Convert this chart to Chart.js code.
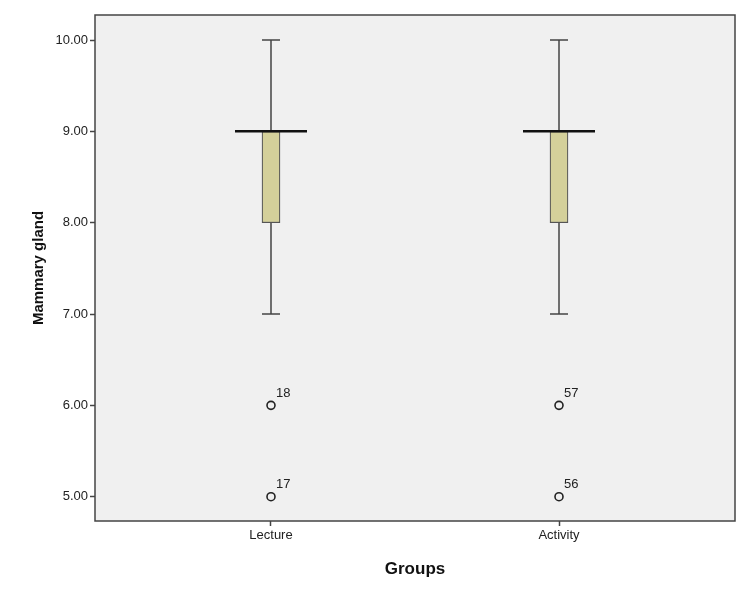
<!DOCTYPE html>
<html>
<head>
<meta charset="utf-8">
<script src="https://cdn.jsdelivr.net/npm/chart.js@4"></script>
<style>
  html, body { margin: 0; padding: 0; background: #fff; }
  #wrap { width: 750px; height: 600px; }
</style>
</head>
<body>
<div id="wrap"><canvas id="chart" width="750" height="600"></canvas></div>
<script>
// box plot values per group
var groups = ['Lecture', 'Activity'];
var whiskerLow = [7, 7];
var q1 = [8, 8];
var median = [9, 9];
var q3 = [9, 9];
var whiskerHigh = [10, 10];
var outlierValues = [[6, 5], [6, 5]];
var outlierIds = [['18', '17'], ['57', '56']];
var yTicks = [5, 6, 7, 8, 9, 10];

var FONT = 'Arial, "Liberation Sans", sans-serif';

var boxData = groups.map(function(g, i) {
  return { x: i + 1, y: [q1[i], q3[i]] };
});
var outlierData = [];
groups.forEach(function(g, i) {
  outlierValues[i].forEach(function(v, j) {
    outlierData.push({ x: i + 1, y: v, id: outlierIds[i][j] });
  });
});

// background + frame of the plot area
var framePlugin = {
  id: 'frame',
  beforeDraw: function(chart) {
    var a = chart.chartArea, ctx = chart.ctx;
    ctx.save();
    ctx.fillStyle = '#f0f0f0';
    ctx.fillRect(a.left, a.top, a.right - a.left, a.bottom - a.top);
    ctx.restore();
  },
  afterDraw: function(chart) {
    var a = chart.chartArea, ctx = chart.ctx;
    ctx.save();
    ctx.strokeStyle = '#444';
    ctx.lineWidth = 1.5;
    ctx.strokeRect(a.left, a.top, a.right - a.left, a.bottom - a.top);
    ctx.restore();
  }
};

// whiskers, caps and median drawn from the arrays through the scales
var whiskerPlugin = {
  id: 'whiskers',
  beforeDatasetsDraw: function(chart) {
    var xs = chart.scales.x, ys = chart.scales.y, ctx = chart.ctx;
    ctx.save();
    ctx.strokeStyle = '#444';
    ctx.lineWidth = 1.5;
    groups.forEach(function(g, i) {
      var cx = xs.getPixelForValue(i + 1);
      ctx.beginPath();
      ctx.moveTo(cx, ys.getPixelForValue(whiskerHigh[i]));
      ctx.lineTo(cx, ys.getPixelForValue(q3[i]));
      ctx.moveTo(cx, ys.getPixelForValue(q1[i]));
      ctx.lineTo(cx, ys.getPixelForValue(whiskerLow[i]));
      ctx.stroke();
      ctx.beginPath();
      [whiskerHigh[i], whiskerLow[i]].forEach(function(v) {
        var py = ys.getPixelForValue(v);
        ctx.moveTo(cx - 9, py);
        ctx.lineTo(cx + 9, py);
      });
      ctx.stroke();
    });
    ctx.restore();
  },
  afterDatasetsDraw: function(chart) {
    var xs = chart.scales.x, ys = chart.scales.y, ctx = chart.ctx;
    ctx.save();
    ctx.strokeStyle = '#111';
    ctx.lineWidth = 2.5;
    groups.forEach(function(g, i) {
      var cx = xs.getPixelForValue(i + 1);
      var py = ys.getPixelForValue(median[i]);
      ctx.beginPath();
      ctx.moveTo(cx - 36, py);
      ctx.lineTo(cx + 36, py);
      ctx.stroke();
    });
    // outlier case numbers
    ctx.fillStyle = '#222';
    ctx.font = '13px ' + FONT;
    ctx.textAlign = 'left';
    ctx.textBaseline = 'middle';
    outlierData.forEach(function(p) {
      ctx.fillText(p.id, xs.getPixelForValue(p.x) + 5, ys.getPixelForValue(p.y) - 12);
    });
    ctx.restore();
  }
};

var ctx = document.getElementById('chart').getContext('2d');
new Chart(ctx, {
  data: {
    datasets: [
      {
        type: 'bar',
        data: boxData,
        backgroundColor: '#d4d09a',
        borderColor: '#555',
        borderWidth: 1.2,
        borderSkipped: false,
        barThickness: 18,
        order: 2
      },
      {
        type: 'scatter',
        data: outlierData,
        pointStyle: 'circle',
        pointRadius: 4,
        pointBackgroundColor: 'rgba(0,0,0,0)',
        pointBorderColor: '#222',
        pointBorderWidth: 1.6,
        order: 1
      }
    ]
  },
  options: {
    responsive: false,
    animation: false,
    layout: { padding: { top: 15, right: 15, left: 30, bottom: 20 } },
    plugins: {
      legend: { display: false },
      tooltip: { enabled: false }
    },
    scales: {
      x: {
        type: 'linear',
        min: 0.3889,
        max: 2.6111,
        offset: false,
        afterBuildTicks: function(scale) {
          scale.ticks = groups.map(function(g, i) { return { value: i + 1 }; });
        },
        afterFit: function(scale) { scale.height = 59; },
        ticks: {
          autoSkip: false,
          maxRotation: 0,
          color: '#222',
          font: { family: FONT, size: 13 },
          padding: 2,
          callback: function(v) { return groups[v - 1]; }
        },
        grid: { offset: false, drawOnChartArea: false, tickLength: 5, tickColor: '#444', tickWidth: 1.5 },
        border: { display: false },
        title: {
          display: true,
          text: 'Groups',
          color: '#111',
          font: { family: FONT, size: 17, weight: 'bold' },
          padding: { top: 0, bottom: 0 }
        }
      },
      y: {
        type: 'linear',
        min: 4.734,
        max: 10.274,
        afterBuildTicks: function(scale) {
          scale.ticks = yTicks.map(function(v) { return { value: v }; });
        },
        afterFit: function(scale) { scale.width = 65; },
        ticks: {
          color: '#222',
          font: { family: FONT, size: 13 },
          padding: 2,
          callback: function(v) { return Number(v).toFixed(2); }
        },
        grid: { drawOnChartArea: false, tickLength: 5, tickColor: '#444', tickWidth: 1.5 },
        border: { display: false },
        title: {
          display: true,
          text: 'Mammary gland',
          color: '#111',
          font: { family: FONT, size: 15, weight: 'bold' },
          padding: { top: 0, bottom: 0 }
        }
      }
    }
  },
  plugins: [framePlugin, whiskerPlugin]
});
</script>
</body>
</html>
